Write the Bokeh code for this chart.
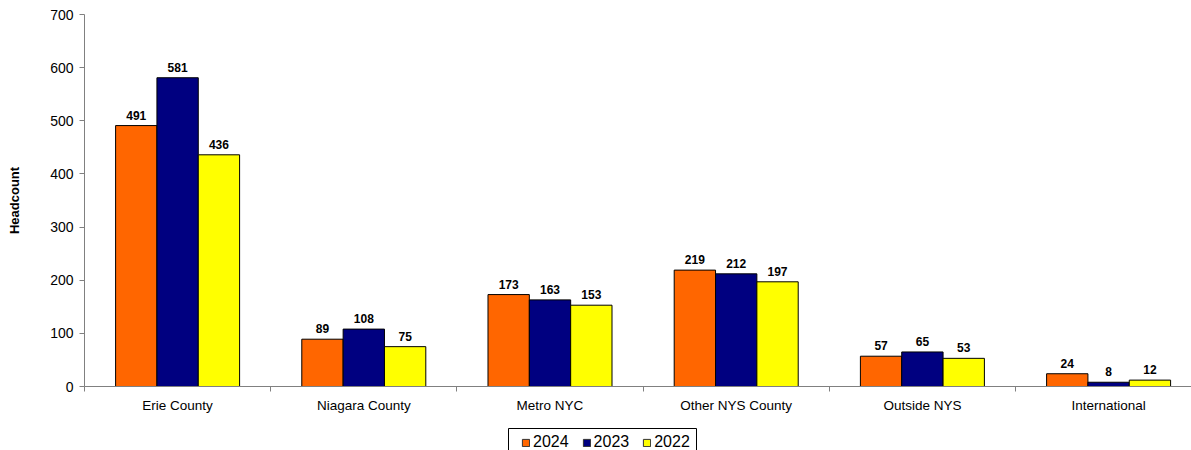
from bokeh.plotting import figure
from bokeh.models import (ColumnDataSource, FixedTicker, LinearAxis, Range1d,
                          Legend, LegendItem, LabelSet, Spacer)
from bokeh.layouts import column, row
from bokeh.core.properties import value
from bokeh.embed import file_html
from bokeh.resources import INLINE

categories = ["Erie County", "Niagara County", "Metro NYC", "Other NYS County",
              "Outside NYS", "International"]
years = ["2024", "2023", "2022"]
v2024 = [491, 89, 173, 219, 57, 24]
v2023 = [581, 108, 163, 212, 65, 8]
v2022 = [436, 75, 153, 197, 53, 12]
colors = ["#FF6600", "#000080", "#FFFF00"]
y_ticks = [0, 100, 200, 300, 400, 500, 600, 700]

FONT = "Liberation Sans"
band_px = 186.2
frame_w = 1191 - 84
p = figure(width=1191, height=428, output_backend="svg", toolbar_location=None,
           x_range=Range1d(0, frame_w / band_px), y_range=Range1d(0, 700),
           min_border_left=84, min_border_right=0, min_border_top=14,
           min_border_bottom=42, x_axis_location=None)
p.outline_line_color = None
p.xgrid.visible = False
p.ygrid.visible = False

centers = [i + 0.5 for i in range(len(categories))]
bw = 0.222
offsets = [-bw, 0.0, bw]
for vals, off, col in zip([v2024, v2023, v2022], offsets, colors):
    src = ColumnDataSource(dict(x=[c + off for c in centers], top=vals,
                                lab=[str(v) for v in vals]))
    p.vbar(x="x", top="top", width=bw, bottom=0, source=src,
           fill_color=col, line_color="black", line_width=1)
    p.add_layout(LabelSet(x="x", y="top", text="lab", source=src,
                          text_align="center", text_baseline="bottom",
                          y_offset=6, text_font=value(FONT), text_font_size="12px",
                          text_font_style="bold", text_color="black"))

# y axis
ya = p.yaxis[0]
ya.ticker = FixedTicker(ticks=y_ticks)
ya.minor_tick_line_color = None
ya.axis_line_color = "#808080"
ya.major_tick_line_color = "#808080"
ya.major_tick_out = 5
ya.major_tick_in = 0
ya.major_label_standoff = 6
ya.major_label_text_font = FONT
ya.major_label_text_font_size = "14px"
ya.major_label_text_color = "black"
ya.axis_label = "Headcount"
ya.axis_label_text_font = FONT
ya.axis_label_text_font_size = "13px"
ya.axis_label_text_font_style = "bold"
ya.axis_label_text_color = "black"
ya.axis_label_standoff = 25

# x axis: ticks at category boundaries
xa1 = LinearAxis(ticker=FixedTicker(ticks=list(range(len(categories) + 1))),
                 major_label_overrides={i: "" for i in range(len(categories) + 1)})
xa1.axis_line_color = "#808080"
xa1.major_tick_line_color = "#808080"
xa1.major_tick_out = 5
xa1.major_tick_in = 0
xa1.minor_tick_line_color = None
xa1.major_label_text_font_size = "1px"
xa1.major_label_standoff = 0
p.add_layout(xa1, "below")

# x axis: category labels at centers
xa2 = LinearAxis(ticker=FixedTicker(ticks=centers),
                 major_label_overrides={c: n for c, n in zip(centers, categories)})
xa2.axis_line_color = None
xa2.major_tick_line_color = None
xa2.minor_tick_line_color = None
xa2.major_label_text_font = FONT
xa2.major_label_text_font_size = "13.5px"
xa2.major_label_text_color = "black"
xa2.major_label_standoff = 0
p.add_layout(xa2, "below")

# legend in its own small figure below the chart
lf = figure(width=189, height=24, output_backend="svg", toolbar_location=None,
            x_range=Range1d(0, 1), y_range=Range1d(0, 1),
            min_border=0, x_axis_location=None, y_axis_location=None)
lf.xgrid.visible = False
lf.ygrid.visible = False
lf.outline_line_color = "black"
items = []
for y, col in zip(years, colors):
    r = lf.rect(x=[5], y=[5], width=0.1, height=0.1, fill_color=col,
                line_color="#333333", line_width=1)
    items.append(LegendItem(label=y, renderers=[r]))
legend = Legend(items=items, orientation="horizontal", location=(13, 1))
legend.label_text_font = FONT
legend.label_text_font_size = "16px"
legend.label_text_color = "black"
legend.label_standoff = 3
legend.glyph_width = 9
legend.glyph_height = 9
legend.spacing = 13
legend.padding = 0
legend.margin = 0
legend.border_line_color = None
legend.background_fill_alpha = 0
lf.add_layout(legend, "center")

layout = column(p, row(Spacer(width=508, height=24), lf))
open("out.html", "w").write(file_html(layout, INLINE))
